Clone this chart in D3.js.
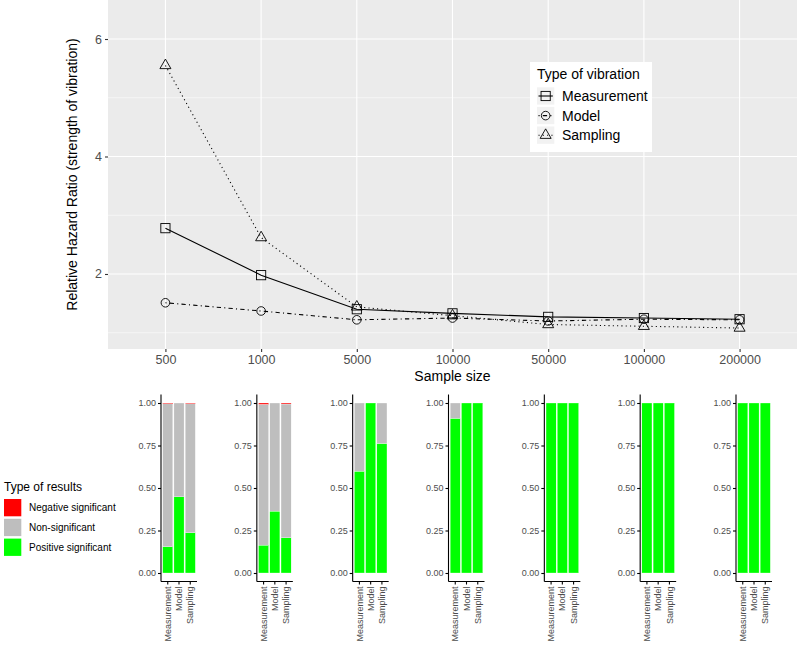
<!DOCTYPE html>
<html>
<head>
<meta charset="utf-8">
<script src="https://cdn.jsdelivr.net/npm/d3@7"></script>
<style>
  body { margin: 0; background: #fff; }
  svg { display: block; font-family: "Liberation Sans", Arial, sans-serif; }
</style>
</head>
<body>
<svg id="chart" width="800" height="645"></svg>
<script>
// ---------- data ----------
const sampleSizes = ["500", "1000", "5000", "10000", "50000", "100000", "200000"];
const vibrationTypes = ["Measurement", "Model", "Sampling"];
const measurementHR = [2.78, 1.98, 1.40, 1.33, 1.27, 1.25, 1.23];
const modelHR       = [1.51, 1.37, 1.22, 1.25, 1.20, 1.23, 1.22];
const samplingHR    = [5.55, 2.62, 1.44, 1.29, 1.14, 1.11, 1.08];
const yTicksTop = [2, 4, 6];

const resultTypes = ["Negative significant", "Non-significant", "Positive significant"];
const resultColors = ["#FF0000", "#BEBEBE", "#00FF00"];
const measurementPositive = [0.155, 0.164, 0.599, 0.910, 1, 1, 1];
const measurementNonSig   = [0.841, 0.828, 0.401, 0.090, 0, 0, 0];
const measurementNegative = [0.004, 0.008, 0, 0, 0, 0, 0];
const modelPositive = [0.448, 0.364, 1, 1, 1, 1, 1];
const modelNonSig   = [0.552, 0.636, 0, 0, 0, 0, 0];
const modelNegative = [0, 0, 0, 0, 0, 0, 0];
const samplingPositive = [0.237, 0.207, 0.762, 1, 1, 1, 1];
const samplingNonSig   = [0.758, 0.787, 0.238, 0, 0, 0, 0];
const samplingNegative = [0.005, 0.006, 0, 0, 0, 0, 0];
const yTicksBottom = [0, 0.25, 0.5, 0.75, 1];

// ---------- setup ----------
const svg = d3.select("#chart");
const hrSeries = [
  { name: "Measurement", values: measurementHR, dash: null, shape: "square" },
  { name: "Model", values: modelHR, dash: "1.1,3.2,4.3,3.2", shape: "circle" },
  { name: "Sampling", values: samplingHR, dash: "1.1,3.2", shape: "triangle" }
];

function drawMarker(g, shape, x, y) {
  if (shape === "square") {
    g.append("rect").attr("x", x - 4.6).attr("y", y - 4.6).attr("width", 9.2).attr("height", 9.2)
      .attr("fill", "none").attr("stroke", "#000").attr("stroke-width", 0.9);
  } else if (shape === "circle") {
    g.append("circle").attr("cx", x).attr("cy", y).attr("r", 4.3)
      .attr("fill", "none").attr("stroke", "#000").attr("stroke-width", 0.9);
  } else {
    const s = 11, h = s * Math.sqrt(3) / 2;
    g.append("path")
      .attr("d", `M${x},${y - h * 2 / 3}L${x + s / 2},${y + h / 3}L${x - s / 2},${y + h / 3}Z`)
      .attr("fill", "none").attr("stroke", "#000").attr("stroke-width", 0.9);
  }
}

// ---------- top panel ----------
const P = { left: 108, right: 797, top: 0, bottom: 349 };
const xTop = d3.scalePoint().domain(sampleSizes).range([P.left, P.right]).padding(0.6);
const yTop = d3.scaleLinear().domain([0.723, 6.664]).range([P.bottom, P.top]);

const gTop = svg.append("g");
gTop.append("rect").attr("x", P.left).attr("y", P.top)
  .attr("width", P.right - P.left).attr("height", P.bottom - P.top).attr("fill", "#EBEBEB");

// minor grid
const minorY = [1, 3, 5];
gTop.selectAll(".minor").data(minorY).join("line")
  .attr("x1", P.left).attr("x2", P.right)
  .attr("y1", d => yTop(d)).attr("y2", d => yTop(d))
  .attr("stroke", "#fff").attr("stroke-width", 0.55);
// major grid
gTop.selectAll(".majorY").data(yTicksTop).join("line")
  .attr("x1", P.left).attr("x2", P.right)
  .attr("y1", d => yTop(d)).attr("y2", d => yTop(d))
  .attr("stroke", "#fff").attr("stroke-width", 1.1);
gTop.selectAll(".majorX").data(sampleSizes).join("line")
  .attr("x1", d => xTop(d)).attr("x2", d => xTop(d))
  .attr("y1", P.top).attr("y2", P.bottom)
  .attr("stroke", "#fff").attr("stroke-width", 1.1);

// axes
const yAxisTop = d3.axisLeft(yTop).tickValues(yTicksTop).tickSize(3).tickPadding(3).tickFormat(d3.format("d"));
const gyTop = gTop.append("g").attr("transform", `translate(${P.left},0)`).call(yAxisTop);
gyTop.select(".domain").remove();
gyTop.selectAll("line").attr("stroke", "#333").attr("stroke-width", 1.1);
gyTop.selectAll("text").attr("fill", "#4D4D4D").style("font-size", "12.5px");

const xAxisTop = d3.axisBottom(xTop).tickSize(3).tickPadding(3);
const gxTop = gTop.append("g").attr("transform", `translate(0,${P.bottom})`).call(xAxisTop);
gxTop.select(".domain").remove();
gxTop.selectAll("line").attr("stroke", "#333").attr("stroke-width", 1.1);
gxTop.selectAll("text").attr("fill", "#4D4D4D").style("font-size", "12.5px");

gTop.append("text").attr("x", (P.left + P.right) / 2).attr("y", 381)
  .attr("text-anchor", "middle").style("font-size", "14px").attr("fill", "#000").text("Sample size");
gTop.append("text").attr("transform", `translate(77,${(P.top + P.bottom) / 2}) rotate(-90)`)
  .attr("text-anchor", "middle").style("font-size", "14px").attr("fill", "#000")
  .text("Relative Hazard Ratio (strength of vibration)");

// lines & markers
const lineGen = d3.line().x((d, i) => xTop(sampleSizes[i])).y(d => yTop(d));
hrSeries.forEach(s => {
  gTop.append("path").attr("d", lineGen(s.values)).attr("fill", "none")
    .attr("stroke", "#000").attr("stroke-width", 1.1)
    .attr("stroke-dasharray", s.dash);
});
hrSeries.forEach(s => {
  const g = gTop.append("g");
  s.values.forEach((v, i) => drawMarker(g, s.shape, xTop(sampleSizes[i]), yTop(v)));
});

// top legend
const lg = svg.append("g").attr("transform", "translate(530,62)");
lg.append("rect").attr("width", 122).attr("height", 90).attr("fill", "#fff");
lg.append("text").attr("x", 7).attr("y", 17).style("font-size", "14px").text("Type of vibration");
hrSeries.forEach((s, i) => {
  const cy = 34 + i * 19.6;
  const kg = lg.append("g");
  kg.append("rect").attr("x", 7).attr("y", cy - 8.7).attr("width", 17.3).attr("height", 17.3).attr("fill", "#F2F2F2");
  kg.append("line").attr("x1", 8.5).attr("x2", 22.8).attr("y1", cy).attr("y2", cy)
    .attr("stroke", "#000").attr("stroke-width", 1.1).attr("stroke-dasharray", s.dash);
  drawMarker(kg, s.shape, 15.65, cy);
  lg.append("text").attr("x", 32).attr("y", cy).attr("dy", "0.35em").style("font-size", "14px").text(s.name);
});

// ---------- bottom panels ----------
const panelX = d3.scalePoint().domain(sampleSizes).range([161, 736]);
const yBot = d3.scaleLinear().domain([-0.05, 1.05]).range([581.5, 394.5]);
const panelW = 36;

const stackKeys = ["Positive significant", "Non-significant", "Negative significant"];
const colorOf = d3.scaleOrdinal().domain(resultTypes).range(resultColors);
const positives = { Measurement: measurementPositive, Model: modelPositive, Sampling: samplingPositive };
const nonsigs = { Measurement: measurementNonSig, Model: modelNonSig, Sampling: samplingNonSig };
const negatives = { Measurement: measurementNegative, Model: modelNegative, Sampling: samplingNegative };

sampleSizes.forEach((ss, pi) => {
  const x0 = panelX(ss);
  const xb = d3.scaleBand().domain(vibrationTypes).range([x0, x0 + panelW]).paddingInner(0.1).paddingOuter(0.15);
  const rows = vibrationTypes.map(t => ({
    type: t,
    "Positive significant": positives[t][pi],
    "Non-significant": nonsigs[t][pi],
    "Negative significant": negatives[t][pi]
  }));
  const stacked = d3.stack().keys(stackKeys)(rows);
  const g = svg.append("g");
  stacked.forEach(layer => {
    g.selectAll(null).data(layer.filter(d => d[1] - d[0] > 0)).join("rect")
      .attr("x", d => xb(d.data.type))
      .attr("width", xb.bandwidth())
      .attr("y", d => yBot(d[1]))
      .attr("height", d => Math.max(0, yBot(d[0]) - yBot(d[1])))
      .attr("fill", colorOf(layer.key))
      .attr("stroke", "#fff").attr("stroke-width", 0.3);
  });
  // y axis
  const ya = g.append("g").attr("transform", `translate(${x0},0)`)
    .call(d3.axisLeft(yBot).tickValues(yTicksBottom).tickSize(3).tickPadding(2).tickFormat(d3.format(".2f")));
  ya.select(".domain").attr("d", `M0,${yBot(1.05)}V${yBot(-0.05)}`).attr("stroke", "#000").attr("stroke-width", 1.1);
  ya.selectAll(".tick line").attr("stroke", "#000").attr("stroke-width", 1.1);
  ya.selectAll("text").attr("fill", "#4D4D4D").style("font-size", "9px");
  // x axis
  const xa = g.append("g").attr("transform", `translate(0,${yBot(-0.05)})`)
    .call(d3.axisBottom(xb).tickSize(3).tickPadding(2));
  xa.select(".domain").attr("d", `M${x0},0H${x0 + panelW}`).attr("stroke", "#000").attr("stroke-width", 1.1);
  xa.selectAll(".tick line").attr("stroke", "#000").attr("stroke-width", 1.1);
  xa.selectAll("text")
    .attr("transform", "rotate(-90)")
    .attr("x", -5).attr("y", 0).attr("dy", "0.35em")
    .attr("text-anchor", "end")
    .attr("fill", "#4D4D4D").style("font-size", "9px");
});

// bottom legend
const bl = svg.append("g").attr("transform", "translate(4,0)");
bl.append("text").attr("x", 0).attr("y", 487).attr("dy", "0.35em").style("font-size", "12px").text("Type of results");
resultTypes.forEach((r, i) => {
  const y = 499 + i * 19.8;
  bl.append("rect").attr("x", 0).attr("y", y).attr("width", 17.3).attr("height", 17.3).attr("fill", colorOf(r));
  bl.append("text").attr("x", 25).attr("y", y + 8.65).attr("dy", "0.35em").style("font-size", "10px").text(r);
});
</script>
</body>
</html>
